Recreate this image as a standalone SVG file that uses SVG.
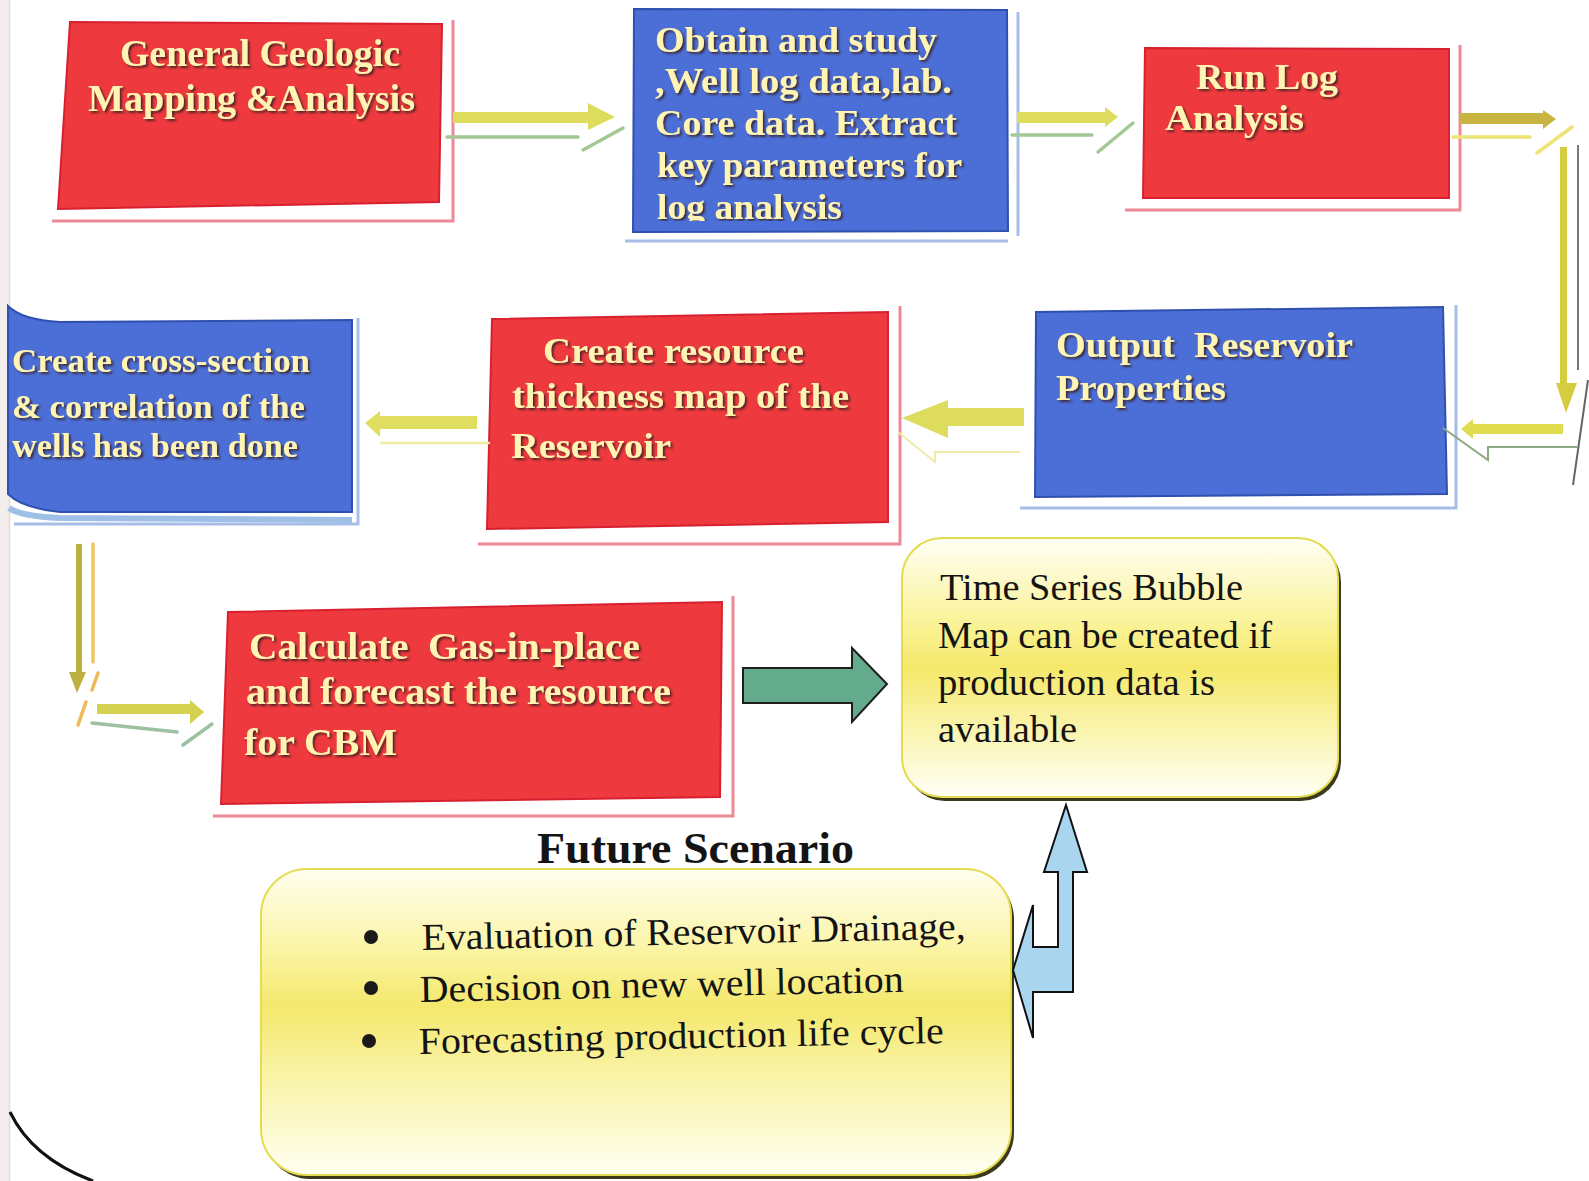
<svg xmlns="http://www.w3.org/2000/svg" width="1589" height="1181" viewBox="0 0 1589 1181">
<defs>
<style>
.red{fill:#ee3a3e;stroke:#d82030;stroke-width:2}
.blue{fill:#4b6fd6;stroke:#3050b0;stroke-width:2}
.rf{stroke:#ec8a98;stroke-width:3;fill:none}
.bf{stroke:#a8bce8;stroke-width:3;fill:none}
.bt{font-family:"Liberation Serif","Times New Roman",serif;font-weight:bold;fill:#fff4b4;filter:url(#ts)}
.nt{font-family:"Liberation Serif","Times New Roman",serif;fill:#141414}
.ya{stroke:none}
.gh{fill:none;stroke-width:3.5;stroke-linecap:round}
.bul{fill:#1a1a1a}
</style>
<filter id="ts" x="-5%" y="-20%" width="110%" height="140%">
<feDropShadow dx="2" dy="2" stdDeviation="0.8" flood-color="#3a1a1a" flood-opacity="0.85"/>
</filter>
<linearGradient id="yg" x1="0" y1="0" x2="0" y2="1">
<stop offset="0" stop-color="#fffef4"/>
<stop offset="0.3" stop-color="#fbf4a0"/>
<stop offset="0.5" stop-color="#f5e86a"/>
<stop offset="0.72" stop-color="#faf3a8"/>
<stop offset="1" stop-color="#fffff6"/>
</linearGradient>
<linearGradient id="yg2" x1="0" y1="0" x2="0" y2="1">
<stop offset="0" stop-color="#fffef0"/>
<stop offset="0.25" stop-color="#fbf5a8"/>
<stop offset="0.45" stop-color="#f4e86c"/>
<stop offset="0.65" stop-color="#f9f2a0"/>
<stop offset="1" stop-color="#fffff2"/>
</linearGradient>
<clipPath id="c2"><rect x="630" y="0" width="380" height="221"/></clipPath>
</defs>
<rect width="1589" height="1181" fill="#ffffff"/>
<rect x="0" y="0" width="9" height="1181" fill="#f3eded"/>
<line x1="9.5" y1="0" x2="9.5" y2="1181" stroke="#e6dada" stroke-width="1.5"/>
<path d="M10 1112 Q32 1158 93 1181" fill="none" stroke="#111" stroke-width="3"/>

<g id="node-geologic">
<polyline class="rf" points="52,221 453,221 453,20"/>
<polygon class="red" points="70,22 442,24 439,202 58,209"/>
<text class="bt" font-size="37" x="120" y="66" textLength="280" lengthAdjust="spacingAndGlyphs">General Geologic</text>
<text class="bt" font-size="37" x="88" y="111" textLength="327" lengthAdjust="spacingAndGlyphs">Mapping &amp;Analysis</text>
</g>

<g id="node-obtain">
<polyline class="bf" points="625,241 1008,241"/>
<line class="bf" x1="1018" y1="12" x2="1018" y2="236"/>
<polygon class="blue" points="634,9 1007,10 1008,231 633,232"/>
<g clip-path="url(#c2)">
<text class="bt" font-size="35" x="655" y="52" textLength="282" lengthAdjust="spacingAndGlyphs">Obtain and study</text>
<text class="bt" font-size="35" x="655" y="93" textLength="297" lengthAdjust="spacingAndGlyphs">,Well log data,lab.</text>
<text class="bt" font-size="35" x="655" y="135" textLength="302" lengthAdjust="spacingAndGlyphs">Core data. Extract</text>
<text class="bt" font-size="35" x="657" y="177" textLength="305" lengthAdjust="spacingAndGlyphs">key parameters for</text>
<text class="bt" font-size="35" x="657" y="219" textLength="185" lengthAdjust="spacingAndGlyphs">log analysis</text>
</g>
</g>

<g id="node-runlog">
<polyline class="rf" points="1125,210 1460,210 1460,45"/>
<polygon class="red" points="1145,48 1449,49 1449,198 1143,198"/>
<text class="bt" font-size="36" x="1196" y="89" textLength="142" lengthAdjust="spacingAndGlyphs">Run Log</text>
<text class="bt" font-size="36" x="1165" y="130" textLength="139" lengthAdjust="spacingAndGlyphs">Analysis</text>
</g>

<g id="node-output">
<polyline class="bf" points="1020,508 1456,508 1456,305"/>
<polygon class="blue" points="1036,312 1443,307 1447,494 1035,497"/>
<text class="bt" font-size="36" x="1056" y="357" textLength="297" lengthAdjust="spacingAndGlyphs" style="white-space:pre">Output  Reservoir</text>
<text class="bt" font-size="36" x="1056" y="400" textLength="170" lengthAdjust="spacingAndGlyphs">Properties</text>
</g>

<g id="node-thickness">
<polyline class="rf" points="478,544 900,544 900,306"/>
<polygon class="red" points="492,319 888,312 888,522 487,529"/>
<text class="bt" font-size="36" x="543" y="363" textLength="261" lengthAdjust="spacingAndGlyphs">Create resource</text>
<text class="bt" font-size="36" x="512" y="408" textLength="337" lengthAdjust="spacingAndGlyphs">thickness map of the</text>
<text class="bt" font-size="36" x="511" y="458" textLength="160" lengthAdjust="spacingAndGlyphs">Reservoir</text>
</g>

<g id="node-crosssection">
<polyline class="bf" points="14,524 358,524 358,318"/>
<path d="M9 508 Q20 516 60 518 L352 520" fill="none" stroke="#9fc0e6" stroke-width="6"/>
<path class="blue" d="M8 306 Q22 320 60 322 L352 320 L352 512 L60 512 Q22 508 8 494 Z"/>
<text class="bt" font-size="34" x="12" y="372" textLength="298" lengthAdjust="spacingAndGlyphs">Create cross-section</text>
<text class="bt" font-size="34" x="12" y="418" textLength="293" lengthAdjust="spacingAndGlyphs">&amp; correlation of the</text>
<text class="bt" font-size="34" x="12" y="457" textLength="286" lengthAdjust="spacingAndGlyphs">wells has been done</text>
</g>

<g id="node-calculate">
<polyline class="rf" points="213,816 733,816 733,596"/>
<polygon class="red" points="228,612 722,602 720,797 221,804"/>
<text class="bt" font-size="38" x="249" y="659" textLength="391" lengthAdjust="spacingAndGlyphs" style="white-space:pre">Calculate  Gas-in-place</text>
<text class="bt" font-size="38" x="246" y="704" textLength="425" lengthAdjust="spacingAndGlyphs">and forecast the resource</text>
<text class="bt" font-size="38" x="244" y="755" textLength="153" lengthAdjust="spacingAndGlyphs">for CBM</text>
</g>

<g id="node-timeseries">
<rect x="905" y="542" width="436" height="259" rx="40" fill="#3c3a1c"/>
<rect x="902" y="538" width="436" height="259" rx="40" fill="url(#yg)" stroke="#e4dc50" stroke-width="2"/>
<text class="nt" font-size="37" x="940" y="600" textLength="303" lengthAdjust="spacingAndGlyphs">Time Series Bubble</text>
<text class="nt" font-size="37" x="938" y="648" textLength="334" lengthAdjust="spacingAndGlyphs">Map can be created if</text>
<text class="nt" font-size="37" x="938" y="695" textLength="277" lengthAdjust="spacingAndGlyphs">production data is</text>
<text class="nt" font-size="37" x="938" y="742" textLength="139" lengthAdjust="spacingAndGlyphs">available</text>
</g>

<g id="node-future">
<text class="nt" font-size="44" font-weight="bold" x="537" y="863" textLength="317" lengthAdjust="spacingAndGlyphs">Future Scenario</text>
<rect x="264" y="873" width="750" height="306" rx="46" fill="#3c3a1c"/>
<rect x="261" y="869" width="750" height="306" rx="46" fill="url(#yg2)" stroke="#e4dc50" stroke-width="2"/>
<circle class="bul" cx="371" cy="937" r="7"/>
<circle class="bul" cx="371" cy="988" r="7"/>
<circle class="bul" cx="369" cy="1041" r="7"/>
<text class="nt" font-size="38" x="422" y="950" textLength="544" lengthAdjust="spacingAndGlyphs" transform="rotate(-1.2 422 950)">Evaluation of Reservoir Drainage,</text>
<text class="nt" font-size="38" x="420" y="1002" textLength="484" lengthAdjust="spacingAndGlyphs" transform="rotate(-1.2 420 1002)">Decision on new well location</text>
<text class="nt" font-size="38" x="419" y="1054" textLength="525" lengthAdjust="spacingAndGlyphs" transform="rotate(-1.2 419 1054)">Forecasting production life cycle</text>
</g>

<g id="connectors">
<polygon class="ya" fill="#dedc5c" points="453,112 588,112 588,103 615,117 588,130 588,123 453,123"/>
<line class="gh" stroke="#a4c894" x1="447" y1="137" x2="578" y2="137"/>
<line class="gh" stroke="#a4c894" x1="583" y1="150" x2="623" y2="128"/>
<polygon class="ya" fill="#dedc5c" points="1017,112 1105,112 1105,107 1118,117 1105,127 1105,123 1017,123"/>
<line class="gh" stroke="#a4c894" x1="1012" y1="135" x2="1092" y2="135"/>
<line class="gh" stroke="#a4c894" x1="1098" y1="152" x2="1133" y2="123"/>
<polygon class="ya" fill="#c8b440" points="1459,113 1543,113 1543,110 1556,119 1543,129 1543,124 1459,124"/>
<line class="gh" stroke="#ece474" x1="1453" y1="137" x2="1530" y2="137"/>
<line class="gh" stroke="#ece474" x1="1537" y1="153" x2="1572" y2="127"/>
<polygon class="ya" fill="#d6cc40" points="1560,147 1567,147 1567,383 1577,383 1566,413 1556,383 1560,383"/>
<line stroke="#777" stroke-width="2" x1="1578" y1="145" x2="1578" y2="370"/>
<line stroke="#666" stroke-width="2" x1="1588" y1="380" x2="1573" y2="485"/>
<polygon class="ya" fill="#e0dc50" points="1563,424 1473,424 1473,419 1461,429 1473,439 1473,434 1563,434"/>
<polyline fill="none" stroke="#8ea884" stroke-width="2" points="1577,447 1488,447 1488,460 1443,428"/>
<polygon class="ya" fill="#dedc5c" points="1024,408 948,408 948,400 902,418 948,438 948,426 1024,426"/>
<polyline fill="none" stroke="#efeaa8" stroke-width="2" points="1020,452 935,452 935,462 898,432"/>
<polygon class="ya" fill="#e0de60" points="477,416 380,416 380,411 365,423 380,437 380,429 477,429"/>
<line stroke="#f0eca4" stroke-width="2.5" x1="380" y1="443" x2="490" y2="443"/>
<polygon class="ya" fill="#bcb040" points="76,544 82,544 82,672 86,672 77,693 69,672 76,672"/>
<line class="gh" stroke="#f0c464" stroke-width="3" x1="93" y1="544" x2="93" y2="662"/>
<line class="gh" stroke="#f0b858" x1="98" y1="673" x2="92" y2="690"/>
<line class="gh" stroke="#f0b858" x1="86" y1="702" x2="78" y2="725"/>
<polygon class="ya" fill="#d4d050" points="97,704 190,704 190,700 204,712 190,724 190,714 97,714"/>
<line class="gh" stroke="#9cc0a0" x1="92" y1="723" x2="177" y2="732"/>
<line class="gh" stroke="#9cc0a0" x1="183" y1="745" x2="212" y2="724"/>
<polygon fill="#63ab8c" stroke="#1e1e1e" stroke-width="2" points="743,668 852,668 852,648 887,684 852,722 852,703 743,703"/>
<polygon fill="#a9d5ef" stroke="#111" stroke-width="2" points="1066,805 1087,872 1073,872 1073,992 1033,992 1033,1038 1013,970 1033,905 1033,947 1058,947 1058,872 1044,872"/>
</g>
</svg>
